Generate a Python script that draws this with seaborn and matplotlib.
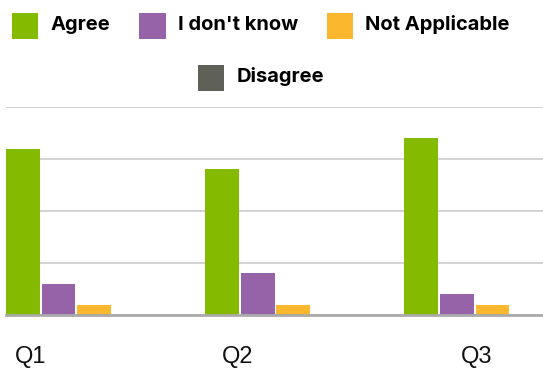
import matplotlib
matplotlib.use("Agg")
import matplotlib.pyplot as plt
import seaborn as sns
import pandas as pd

questions = ["Q1", "Q2", "Q3"]
series = ["Agree", "I don't know", "Not Applicable", "Disagree"]
agree = [16, 14, 17]
dont_know = [3, 4, 2]
not_applicable = [1, 1, 1]
disagree = [0, 0, 0]
colors = ["#84BA00", "#9663A8", "#FBB72E", "#5F6058"]
y_ticks = [0, 5, 10, 15, 20]

rows = []
for name, vals in zip(series, [agree, dont_know, not_applicable, disagree]):
    for q, v in zip(questions, vals):
        rows.append({"question": q, "series": name, "value": v})
df = pd.DataFrame(rows)

sns.set_theme(style="white")
fig = plt.figure(figsize=(5.43, 3.68), dpi=100)
ax = fig.add_axes([6 / 543, 1 - 315 / 368, 537 / 543, (315 - 107) / 368])

sns.barplot(data=df, x="question", y="value", hue="series", hue_order=series,
            order=questions, palette=colors, width=0.714, gap=0.05,
            saturation=1, ax=ax, linewidth=0)

ax.set_xlim(-0.353, 2.343)
ax.set_ylim(0, 20)
ax.set_yticks(y_ticks)
ax.set_yticklabels([])
ax.yaxis.grid(True, color="#cccccc", linewidth=1.2)
ax.set_axisbelow(True)
for s in ["left", "right", "top"]:
    ax.spines[s].set_visible(False)
ax.spines["bottom"].set_color("#aaaaaa")
ax.spines["bottom"].set_linewidth(2)
ax.set_xlabel("")
ax.set_ylabel("")
ax.tick_params(axis="y", length=0)
ax.set_xticks([-0.230, 0.810, 2.009])
ax.set_xticklabels(questions, fontsize=17, family="Liberation Sans", color="#111111")
ax.tick_params(axis="x", length=0, pad=22)

handles, labels = ax.get_legend_handles_labels()
ax.get_legend().remove()
legfont = {"family": "Inter", "weight": "bold", "size": 14.5}
common = dict(frameon=False, prop=legfont, handlelength=1.3, handleheight=1.3,
              handletextpad=0.6, columnspacing=1.45, borderaxespad=0, borderpad=0,
              labelcolor="#000000")
cx = 261 / 543
leg1 = fig.legend(handles[:3], labels[:3], ncol=3, loc="center",
                  bbox_to_anchor=(cx, 1 - 23 / 368), **common)
leg2 = fig.legend(handles[3:], labels[3:], ncol=1, loc="center",
                  bbox_to_anchor=(cx, 1 - 75 / 368), **common)
for leg in (leg1, leg2):
    for h in leg.legend_handles:
        h.set_height(26 * 72 / 100)
        h.set_y(-5 * 72 / 100 + h.get_y())

fig.savefig("out.png", dpi=100)
